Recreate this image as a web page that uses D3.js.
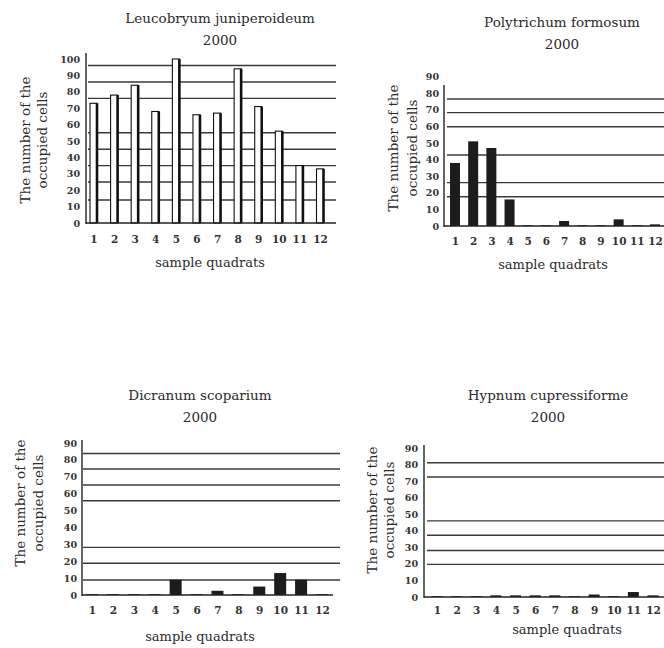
<!DOCTYPE html>
<meta charset="utf-8">
<script src="https://cdn.jsdelivr.net/npm/d3@7"></script>
<style>
  body { margin: 0; background: #fff; }
  text { font-family: "DejaVu Serif", serif; fill: #2b2b2b; }
  .tick text { font-weight: bold; fill: #333; }
</style>
<body>
<div id="draw"></div>
</body>
<script>

  // sample quadrats on the x axis
  var quadrats = ["1","2","3","4","5","6","7","8","9","10","11","12"];

  // occupied cells per quadrat, year 2000
  var leucobryum = [73, 78, 84, 68, 100, 66, 67, 94, 71, 56, 35, 33];
  var polytrichum = [38, 51, 47, 16, 0.5, 0.5, 3, 0.5, 0.5, 4, 0.5, 1];
  var dicranum = [0.5, 0.5, 0.5, 0.5, 9, 0.5, 2.5, 0.5, 5, 13, 9, 0.5];
  var hypnum = [0.5, 0.5, 0.5, 1, 1, 1, 1, 0.5, 1.5, 0.5, 3, 1];

  // y tick labels
  var ticks100 = [0,10,20,30,40,50,60,70,80,90,100];
  var ticks90 = [0,10,20,30,40,50,60,70,80,90];

  // horizontal rules printed in each panel (they sit between the ticks)
  var leucoGrid = [96, 86, 76, 55, 45, 35, 25, 14];
  var polyGrid = [76.5, 68.3, 59.8, 42.8, 26.1, 17.6];
  var dicranGrid = [83.8, 74.6, 65.1, 55.8, 28.2, 18.8, 8.9];
  var hypnumGrid = [81.1, 72.5, 46, 37.3, 28.1, 19.7];

  var titles = ["Leucobryum juniperoideum", "Polytrichum formosum", "Dicranum scoparium", "Hypnum cupressiforme"];
  var year = "2000";

  var svg = d3.select("#draw").append("svg")
    .attr("width", 664).attr("height", 648);

  // where each panel sits on the page
  var panels = [
    {title: titles[0], values: leucobryum, ticks: ticks100, grid: leucoGrid, max: 100,
     axisX: 86, y0: 223, yMax: 59, axisTop: 53, xFrom: 93.5, xTo: 320, xEnd: 336, gridFrom: 88, gridTo: 336,
     barW: 7, open: true, tx: 220, ty: 18, lx: 210, ly: 262, yl1: 25, yl2: 42, ylc: 140, catY: 233, tickR: 80},
    {title: titles[1], values: polytrichum, ticks: ticks90, grid: polyGrid, max: 90,
     axisX: 444, y0: 226, yMax: 76.6, axisTop: 85, xFrom: 455, xTo: 655, xEnd: 664, gridFrom: 447, gridTo: 664,
     barW: 10, open: false, tx: 562, ty: 22, lx: 553, ly: 264, yl1: 393, yl2: 412, ylc: 148, catY: 235, tickR: 439},
    {title: titles[2], values: dicranum, ticks: ticks90, grid: dicranGrid, max: 90,
     axisX: 82, y0: 595, yMax: 443, axisTop: 440, xFrom: 92, xTo: 322, xEnd: 333, gridFrom: 83, gridTo: 340,
     barW: 12, open: false, tx: 200, ty: 395, lx: 200, ly: 636, yl1: 20, yl2: 38, ylc: 503, catY: 604, tickR: 77},
    {title: titles[3], values: hypnum, ticks: ticks90, grid: hypnumGrid, max: 90,
     axisX: 424, y0: 597, yMax: 448, axisTop: 445, xFrom: 437, xTo: 653, xEnd: 664, gridFrom: 427, gridTo: 664,
     barW: 11, open: false, tx: 548, ty: 395, lx: 567, ly: 629, yl1: 372, yl2: 389, ylc: 510, catY: 604, tickR: 418}
  ];

  var drawPanel = function(p){
    var g = svg.append("g");

    var y = d3.scaleLinear().domain([0, p.max]).range([p.y0, p.yMax]);
    var x = d3.scalePoint().domain(quadrats).range([p.xFrom, p.xTo]);

    // titles
    g.append("text").attr("x", p.tx).attr("y", p.ty).attr("dy", "0.35em")
      .attr("text-anchor", "middle").style("font-size", "13.5px").text(p.title);
    g.append("text").attr("x", p.tx).attr("y", p.ty + 22).attr("dy", "0.35em")
      .attr("text-anchor", "middle").style("font-size", "13.5px").text(year);

    // rules
    g.selectAll("line.grid").data(p.grid).enter().append("line")
      .attr("class", "grid")
      .attr("x1", p.gridFrom).attr("x2", p.gridTo)
      .attr("y1", function(d){return y(d);}).attr("y2", function(d){return y(d);})
      .style("stroke", "#3a3a3a").style("stroke-width", 1.4);

    // bars
    var bars = g.selectAll("rect.bar").data(p.values).enter().append("rect")
      .attr("class", "bar")
      .attr("x", function(d, i){return x(quadrats[i]) - p.barW/2;})
      .attr("width", p.barW)
      .attr("y", function(d){return y(d);})
      .attr("height", function(d){return y(0) - y(d);});
    if (p.open) {
      bars.style("fill", "#fff").style("stroke", "#111").style("stroke-width", 1.1);
      // heavy right edge of the open bars
      g.selectAll("line.edge").data(p.values).enter().append("line")
        .attr("x1", function(d, i){return x(quadrats[i]) + p.barW/2;})
        .attr("x2", function(d, i){return x(quadrats[i]) + p.barW/2;})
        .attr("y1", function(d){return y(d);}).attr("y2", y(0))
        .style("stroke", "#111").style("stroke-width", 2.6);
    } else {
      bars.style("fill", "#1c1c1c");
    }

    // axis lines
    g.append("line").attr("x1", p.axisX).attr("x2", p.axisX)
      .attr("y1", p.axisTop).attr("y2", y(0) + 1)
      .style("stroke", "#222").style("stroke-width", 1.4);
    g.append("line").attr("x1", p.axisX).attr("x2", p.xEnd)
      .attr("y1", y(0)).attr("y2", y(0))
      .style("stroke", "#222").style("stroke-width", 1.6);

    // y ticks
    var yAxis = g.append("g").attr("transform", "translate(" + p.tickR + ",0)")
      .call(d3.axisLeft(y).tickValues(p.ticks).tickSize(0).tickPadding(0));
    yAxis.select(".domain").remove();
    yAxis.selectAll("text").style("font-size", "9.5px").style("font-family", "DejaVu Serif, serif");

    // x categories
    var xAxis = g.append("g").attr("transform", "translate(0," + p.catY + ")")
      .call(d3.axisBottom(x).tickSize(0).tickPadding(3));
    xAxis.select(".domain").remove();
    xAxis.selectAll("text").style("font-size", "10.5px").style("font-family", "DejaVu Serif, serif");

    // axis titles
    g.append("text").attr("x", p.lx).attr("y", p.ly).attr("dy", "0.35em")
      .attr("text-anchor", "middle").style("font-size", "13px").text("sample quadrats");
    g.append("text").attr("transform", "translate(" + p.yl1 + "," + p.ylc + ") rotate(-90)")
      .attr("dy", "0.35em").attr("text-anchor", "middle").style("font-size", "13.5px").text("The number of the");
    g.append("text").attr("transform", "translate(" + p.yl2 + "," + p.ylc + ") rotate(-90)")
      .attr("dy", "0.35em").attr("text-anchor", "middle").style("font-size", "13.5px").text("occupied cells");
  };

  panels.forEach(drawPanel);

</script>
